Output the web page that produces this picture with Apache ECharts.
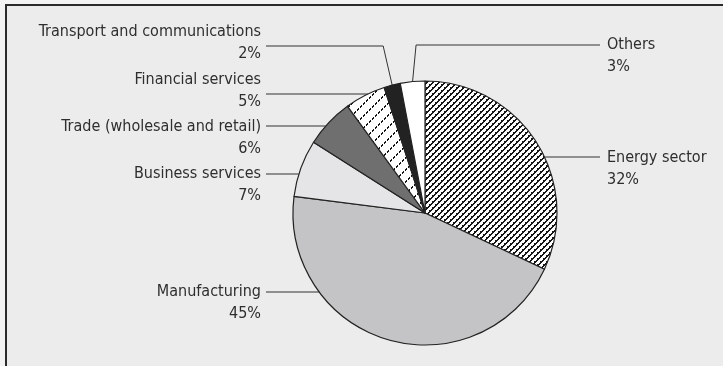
<!DOCTYPE html>
<html>
<head>
<meta charset="utf-8">
<script src="https://cdn.jsdelivr.net/npm/echarts@6/dist/echarts.min.js"></script>
<style>
  html, body { margin: 0; padding: 0; background: #f3f3f3; }
  #frame {
    position: absolute; left: 5px; top: 4px; width: 800px; height: 500px;
    border: 2px solid #2b2b2b; background: #ececec; box-sizing: border-box;
  }
  #chart { position: absolute; left: 0; top: 0; width: 723px; height: 366px; }
</style>
</head>
<body>
<div id="frame"></div>
<div id="chart"></div>
<script>
// Sector shares (%), clockwise from 12 o'clock
const categories = [
  'Energy sector',
  'Manufacturing',
  'Business services',
  'Trade (wholesale and retail)',
  'Financial services',
  'Transport and communications',
  'Others'
];
const shares = [32, 45, 7, 6, 5, 2, 3];

// Pie geometry (px)
const CX = 425, CY = 213, R = 132;

// Label placement: side, first-line centre, leader height, optional elbow offset
const labelPlacement = [
  { side: 'right', textY: 158, lineY: 157 },
  { side: 'left',  textY: 292, lineY: 292 },
  { side: 'left',  textY: 174, lineY: 174 },
  { side: 'left',  textY: 127, lineY: 126 },
  { side: 'left',  textY: 80,  lineY: 94 },
  { side: 'left',  textY: 32,  lineY: 46, elbowDx: -9 },
  { side: 'right', textY: 45,  lineY: 45, elbowDx: 3.5 }
];
const LEFT_TEXT_X = 261, LEFT_LINE_X = 266;
const RIGHT_TEXT_X = 607, RIGHT_LINE_X = 600;
const LINE_H = 22;

// Diagonal stripe tile: pixel (x, y) is inked when (x + y) mod size falls in `band`.
// `beadEvery` adds small bumps along each stripe; `gapEvery` breaks it into dashes.
function stripeTile(size, band, beadEvery, gapEvery) {
  const c = document.createElement('canvas');
  c.width = size; c.height = size;
  const g = c.getContext('2d');
  g.fillStyle = '#ffffff';
  g.fillRect(0, 0, size, size);
  g.fillStyle = '#161616';
  for (let x = 0; x < size; x++) {
    for (let y = 0; y < size; y++) {
      const d = (x + y) % size;
      if (band.indexOf(d) >= 0) {
        if (!(gapEvery && x % gapEvery === gapEvery - 1)) g.fillRect(x, y, 1, 1);
      } else if (beadEvery && d === band[0] - 1 && x % beadEvery === 0) {
        g.fillRect(x, y, 1, 1);
      }
    }
  }
  return c;
}
const denseHatch = { image: stripeTile(6, [4, 5], 3, 0), repeat: 'repeat' };
const sparseHatch = { image: stripeTile(12, [10, 11], 0, 3), repeat: 'repeat' };

const fills = [denseHatch, '#c4c4c6', '#e5e5e7', '#6f6f6f', sparseHatch, '#222222', '#ffffff'];

const total = shares.reduce((a, b) => a + b, 0);
const midAngles = [];
let acc = 0;
shares.forEach(v => { midAngles.push((acc + v / 2) / total * Math.PI * 2); acc += v; });

function edgeAtY(y, side) {
  const dy = y - CY;
  const dx = Math.sqrt(Math.max(R * R - dy * dy, 0));
  return side === 'left' ? CX - dx : CX + dx;
}

const chart = echarts.init(document.getElementById('chart'), null, { renderer: 'canvas' });
chart.setOption({
  animation: false,
  series: [{
    type: 'pie',
    center: [CX, CY],
    radius: R,
    startAngle: 90,
    clockwise: true,
    avoidLabelOverlap: false,
    emphasis: { disabled: true },
    data: categories.map((name, i) => ({
      name: name,
      value: shares[i],
      itemStyle: { color: fills[i] }
    })),
    itemStyle: { borderColor: '#222222', borderWidth: 1.2 },
    label: {
      show: true,
      formatter: '{b}\n{c}%',
      fontFamily: '"Liberation Sans Narrow", "DejaVu Sans Condensed", "Liberation Sans", sans-serif',
      fontSize: 16,
      lineHeight: LINE_H,
      color: '#2e2e2e'
    },
    labelLine: {
      show: true,
      lineStyle: { color: '#333333', width: 1 }
    },
    labelLayout: function (p) {
      const cfg = labelPlacement[p.dataIndex];
      const left = cfg.side === 'left';
      const endX = left ? LEFT_LINE_X : RIGHT_LINE_X;
      let pts;
      if (cfg.elbowDx !== undefined) {
        const a = midAngles[p.dataIndex];
        const ax = CX + R * Math.sin(a), ay = CY - R * Math.cos(a);
        pts = [[ax, ay], [ax + cfg.elbowDx, cfg.lineY], [endX, cfg.lineY]];
      } else {
        const ex = edgeAtY(cfg.lineY, cfg.side);
        pts = [[ex, cfg.lineY], [ex, cfg.lineY], [endX, cfg.lineY]];
      }
      return {
        x: left ? LEFT_TEXT_X : RIGHT_TEXT_X,
        y: cfg.textY + LINE_H / 2,
        align: left ? 'right' : 'left',
        verticalAlign: 'middle',
        labelLinePoints: pts
      };
    }
  }]
});
</script>
</body>
</html>
